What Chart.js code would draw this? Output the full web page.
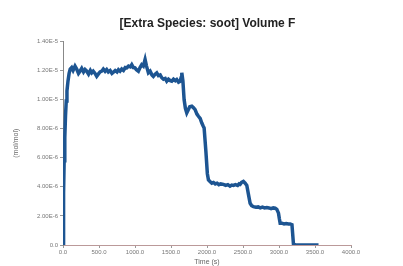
<!DOCTYPE html>
<html>
<head>
<meta charset="utf-8">
<script src="https://cdn.jsdelivr.net/npm/chart.js@4"></script>
<style>
  html, body { margin: 0; padding: 0; background: #fff; }
  #box { width: 403px; height: 266px; }
</style>
</head>
<body>
<div id="box"><canvas id="chart"></canvas></div>
<script>
// soot volume fraction (time in s, value in mol/mol)
const times = [0, 8, 16, 25, 35, 45, 55, 70, 85, 100, 120, 140, 167, 190, 215, 236, 260, 285, 306, 330, 355, 380,
  399, 420, 445, 468, 490, 515, 538, 560, 585, 607, 630, 655, 680, 700, 725, 750, 770, 792, 815, 840, 865, 885, 910,
  935, 955, 978, 1000, 1020, 1047, 1070, 1093, 1115, 1140, 1160, 1186, 1210, 1235, 1255, 1280, 1302, 1325, 1350,
  1372, 1395, 1420, 1441, 1465, 1490, 1511, 1535, 1560, 1580, 1605, 1626, 1640, 1650, 1665, 1682, 1700, 1719, 1740,
  1760, 1789, 1810, 1835, 1860, 1881, 1905, 1928, 1945, 1960, 1985, 2005, 2020, 2045, 2067, 2090, 2115, 2140, 2165,
  2190, 2228, 2260, 2290, 2320, 2345, 2367, 2395, 2425, 2445, 2460, 2480, 2506, 2530, 2553, 2575, 2599, 2620, 2645,
  2680, 2710, 2740, 2770, 2800, 2831, 2860, 2890, 2920, 2947, 2970, 2993, 3005, 3016, 3040, 3070, 3100, 3130, 3155,
  3180, 3201, 3230, 3280, 3330, 3380, 3430, 3480, 3520, 3549];
const values = [0, 3.6e-6, 5.8e-6, 7.4e-6, 8.9e-6, 9.9e-6, 10.6e-6, 11.3e-6, 11.8e-6, 12.1e-6, 12.2e-6, 12.0e-6,
  12.3e-6, 12.1e-6, 11.8e-6, 11.95e-6, 12.15e-6, 11.9e-6, 12.07e-6, 11.95e-6, 11.75e-6, 12.0e-6,
  11.84e-6, 11.95e-6, 11.8e-6, 11.6e-6, 11.75e-6, 11.9e-6, 11.95e-6, 12.1e-6, 11.95e-6, 12.07e-6, 11.9e-6,
  12.0e-6, 11.8e-6, 11.88e-6, 12.0e-6, 11.9e-6, 12.05e-6, 11.95e-6, 12.1e-6, 12.0e-6, 12.2e-6, 12.18e-6, 12.3e-6,
  12.25e-6, 12.4e-6, 12.2e-6, 12.18e-6, 12.05e-6, 11.95e-6, 12.2e-6, 12.4e-6, 12.3e-6, 12.76e-6, 12.3e-6, 11.84e-6,
  11.95e-6, 11.7e-6, 11.6e-6, 11.75e-6, 11.84e-6, 11.65e-6, 11.7e-6, 11.5e-6, 11.4e-6, 11.45e-6, 11.26e-6, 11.4e-6,
  11.3e-6, 11.26e-6, 11.4e-6, 11.3e-6, 11.38e-6, 11.2e-6, 11.26e-6, 11.5e-6, 11.84e-6, 11.3e-6, 10.0e-6, 9.4e-6,
  9.08e-6, 9.3e-6, 9.5e-6, 9.54e-6, 9.45e-6, 9.31e-6, 9.0e-6, 8.85e-6, 8.7e-6, 8.39e-6, 8.2e-6, 8.05e-6, 6.4e-6,
  4.9e-6, 4.48e-6, 4.35e-6, 4.25e-6, 4.3e-6, 4.2e-6, 4.25e-6, 4.15e-6, 4.2e-6, 4.17e-6, 4.1e-6, 4.15e-6, 4.05e-6,
  4.12e-6, 4.1e-6, 4.15e-6, 4.1e-6, 4.2e-6, 4.17e-6, 4.3e-6, 4.37e-6, 4.25e-6, 4.1e-6, 3.5e-6, 2.87e-6, 2.7e-6,
  2.64e-6, 2.6e-6, 2.62e-6, 2.55e-6, 2.6e-6, 2.55e-6, 2.57e-6, 2.55e-6, 2.5e-6, 2.55e-6, 2.53e-6, 2.45e-6,
  2.19e-6, 1.8e-6, 1.5e-6, 1.5e-6, 1.45e-6, 1.48e-6, 1.45e-6, 1.45e-6, 1.4e-6, 0.05e-6, 0, 0, 0, 0, 0, 0, 0, 0];

const xTicks = [0, 500, 1000, 1500, 2000, 2500, 3000, 3500, 4000];
const yTicks = [0, 2e-6, 4e-6, 6e-6, 8e-6, 1e-5, 1.2e-5, 1.4e-5];

const points = times.map((t, i) => ({ x: t, y: values[i] }));

function fmtY(v) {
  if (v === 0) return '0.0';
  return v.toExponential(2).replace('e', 'E');
}

new Chart(document.getElementById('chart'), {
  type: 'line',
  data: {
    datasets: [{
      data: points,
      borderColor: '#1d5592',
      borderWidth: 3.5,
      pointRadius: 0,
      tension: 0,
      fill: false
    }]
  },
  options: {
    responsive: true,
    maintainAspectRatio: false,
    animation: false,
    layout: { padding: { left: 12, right: 0, top: 0, bottom: 0 } },
    plugins: {
      legend: { display: false },
      tooltip: { enabled: false },
      title: {
        display: true,
        text: '[Extra Species: soot] Volume F',
        color: '#222',
        font: { family: 'Liberation Sans', size: 12, weight: 'bold' },
        padding: { top: 16, bottom: 11 }
      }
    },
    scales: {
      x: {
        type: 'linear',
        min: 0,
        max: 4000,
        afterBuildTicks: s => { s.ticks = xTicks.map(v => ({ value: v })); },
        afterFit: s => { s.height = 21; },
        ticks: {
          color: '#777',
          font: { family: 'Liberation Sans', size: 6 },
          padding: 1,
          maxRotation: 0,
          callback: v => v.toFixed(1)
        },
        grid: { drawOnChartArea: false, color: '#999', tickLength: 3 },
        border: { color: '#b99', width: 1 },
        title: {
          display: true,
          text: 'Time (s)',
          color: '#666',
          font: { family: 'Liberation Sans', size: 7 },
          padding: { top: 0, bottom: 0 }
        }
      },
      y: {
        min: 0,
        max: 1.4e-5,
        afterBuildTicks: s => { s.ticks = yTicks.map(v => ({ value: v })); },
        afterFit: s => { s.width = 51; },
        ticks: {
          color: '#777',
          font: { family: 'Liberation Sans', size: 6 },
          padding: 2,
          callback: v => fmtY(v)
        },
        grid: { drawOnChartArea: false, color: '#999', tickLength: 3 },
        border: { color: '#888', width: 1 },
        title: {
          display: true,
          text: '(mol/mol)',
          color: '#666',
          font: { family: 'Liberation Sans', size: 7 },
          padding: { top: 0, bottom: 0 }
        }
      },
      // empty right axis, only to leave the blank margin on the right
      yRight: {
        position: 'right',
        display: true,
        afterFit: s => { s.width = 52; },
        ticks: { display: false },
        grid: { display: false },
        border: { display: false }
      }
    }
  }
});
</script>
</body>
</html>
